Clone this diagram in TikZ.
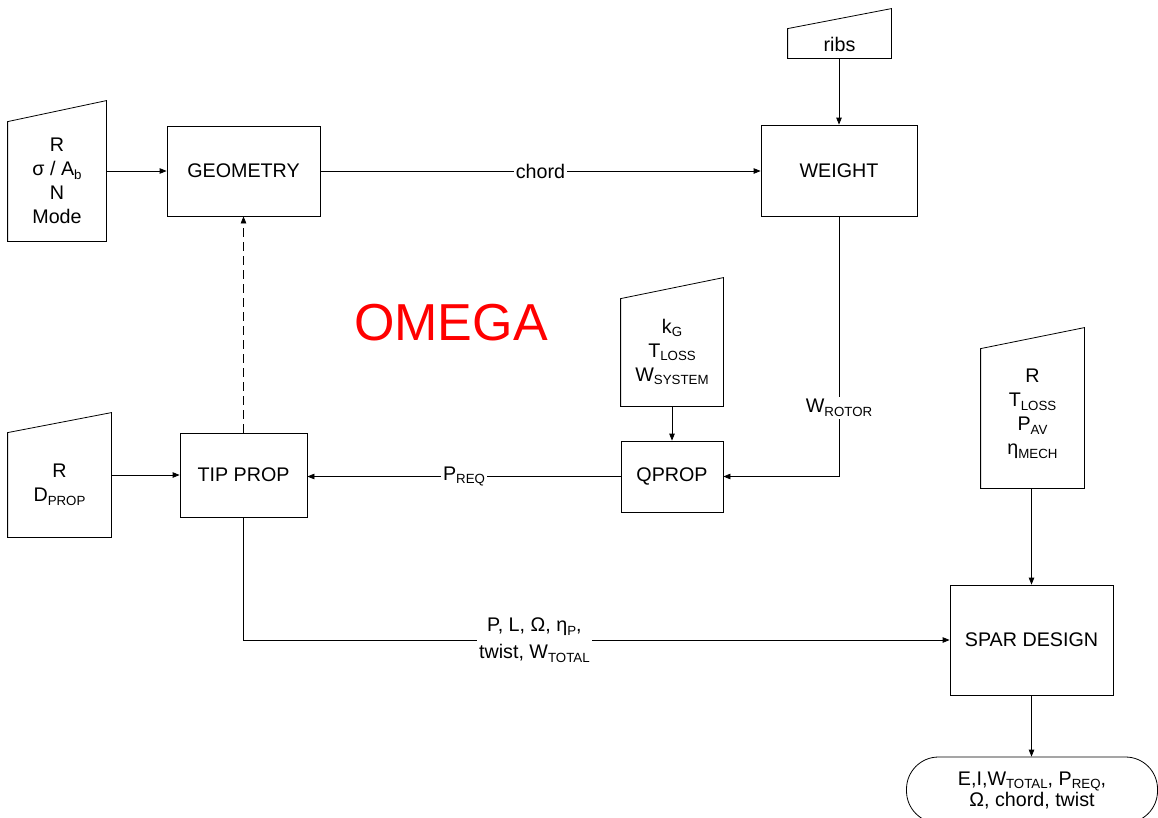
\documentclass[tikz,border=0pt]{standalone}
\usepackage{fontspec}
\setmainfont{Liberation Sans}
\usetikzlibrary{arrows.meta,calc}
\newcommand{\sbs}[1]{\raisebox{-0.35ex}{\fontsize{13.3}{13.3}\selectfont #1}}
\begin{document}
\begin{tikzpicture}[x=1pt,y=-1pt,
  font=\fontsize{19.7}{24}\selectfont,
  line width=0.8pt,
  box/.style={draw, rectangle, inner sep=0pt, align=center},
  inp/.style={rectangle, inner sep=0pt},
  itext/.style={align=center, inner sep=0pt},
  arr/.style={-{Triangle[length=7pt,width=5.5pt]}},
  lbl/.style={fill=white, inner sep=2pt, align=center}]
\useasboundingbox (0,0) rectangle (1158,817);
\clip (0,0) rectangle (1158,817);
\fill[white] (0,0) rectangle (1158,817);

% process boxes
\node[box, minimum width=153pt, minimum height=90pt] (geo) at (243.5,171) {GEOMETRY};
\node[box, minimum width=156pt, minimum height=91pt] (wt) at (839,170.5) {WEIGHT};
\node[box, minimum width=102pt, minimum height=71pt] (qp) at (672,476.5) {QPROP};
\node[box, minimum width=127pt, minimum height=84pt] (tp) at (243.5,475) {TIP PROP};
\node[box, minimum width=163pt, minimum height=110pt] (sp) at (1031.5,640) {SPAR DESIGN};

% manual inputs
\node[inp, minimum width=98pt, minimum height=140pt] (in1) at (57,171) {};
\draw (in1.south west) -- (in1.south east) -- (in1.north east) -- ([yshift=-21pt]in1.north west) -- cycle;
\node[itext] (in1t) at (57,181) {R\\σ / A\sbs{b}\\N\\Mode};

\node[inp, minimum width=103pt, minimum height=49pt] (ribs) at (839.5,33.5) {};
\draw (ribs.south west) -- (ribs.south east) -- (ribs.north east) -- ([yshift=-20pt]ribs.north west) -- cycle;
\node[itext] (ribst) at (839.5,44) {ribs};

\node[inp, minimum width=102pt, minimum height=128pt] (kg) at (672,342) {};
\draw (kg.south west) -- (kg.south east) -- (kg.north east) -- ([yshift=-21pt]kg.north west) -- cycle;
\node[itext] (kgt) at (672,352) {k\sbs{G}\\T\sbs{LOSS}\\W\sbs{SYSTEM}};

\node[inp, minimum width=103pt, minimum height=124pt] (in2) at (59.5,475) {};
\draw (in2.south west) -- (in2.south east) -- (in2.north east) -- ([yshift=-20pt]in2.north west) -- cycle;
\node[itext] (in2t) at (59.5,485) {R\\D\sbs{PROP}};

\node[inp, minimum width=103pt, minimum height=160pt] (in4) at (1032.5,408) {};
\draw (in4.south west) -- (in4.south east) -- (in4.north east) -- ([yshift=-21pt]in4.north west) -- cycle;
\node[itext] (in4t) at (1032.5,414) {R\\T\sbs{LOSS}\\P\sbs{AV}\\η\sbs{MECH}};

% terminator
\node[draw, rounded corners=32pt, minimum width=251pt, minimum height=66pt, align=center,
  font=\fontsize{19.7}{21}\selectfont] (term) at (1032,790)
  {E,I,W\sbs{TOTAL}, P\sbs{REQ},\\Ω, chord, twist};

% title
\node[text=red, font=\fontsize{52}{52}\selectfont] (omega) at (451,323) {OMEGA};

% connectors
\draw[arr] (in1.east) -- (in1.east -| geo.west);
\draw[arr] (geo.east) -- node[lbl]{chord} (geo.east -| wt.west);
\draw[arr] (ribs.south -| wt.north) -- (wt.north);
\draw[arr] (wt.south) |- node[lbl, pos=0.368]{W\sbs{ROTOR}} (qp.east);
\draw[arr] (kg.south) -- (qp.north);
\draw[arr] (qp.west) -- node[lbl]{P\sbs{REQ}} (qp.west -| tp.east);
\draw[arr] (in2.east) -- (tp.west);
\draw[arr, dash pattern=on 9pt off 5pt] (tp.north) -- (geo.south);
\draw[arr] (tp.south) |- node[lbl, pos=0.706, font=\fontsize{19.7}{27}\selectfont]{P, L, Ω, η\sbs{P},\\twist, W\sbs{TOTAL}} (sp.west);
\draw[arr] (in4.south -| sp.north) -- (sp.north);
\draw[arr] (sp.south) -- (sp.south |- term.north);
\end{tikzpicture}
\end{document}
